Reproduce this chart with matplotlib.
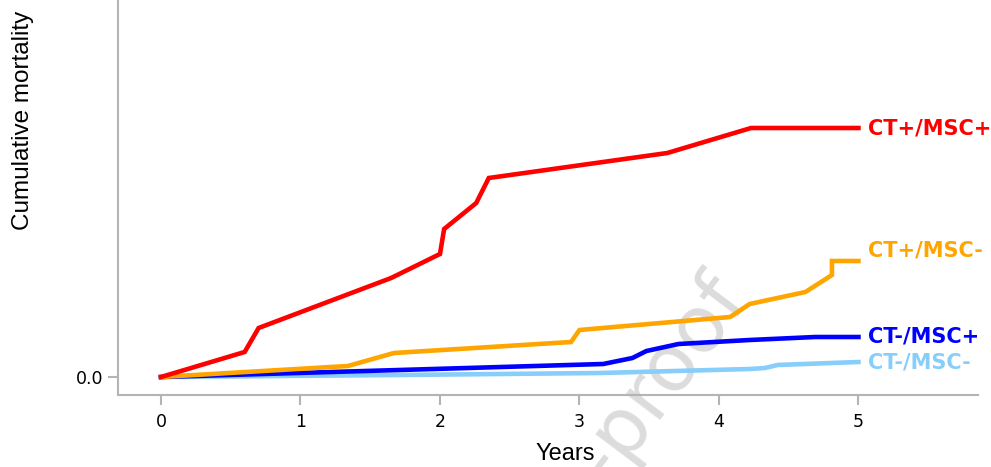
import matplotlib
matplotlib.use('agg')
import matplotlib.pyplot as plt

plt.rcParams["font.family"] = "DejaVu Sans"

# cumulative mortality curves, years since baseline
red_years = [0.0, 0.60, 0.70, 1.65, 2.00, 2.03, 2.26, 2.35, 3.63, 4.23, 5.0]
red_mort = [0.0, 0.025, 0.049, 0.099, 0.123, 0.148, 0.174, 0.199, 0.224, 0.249, 0.249]

orange_years = [0.0, 1.34, 1.67, 2.94, 3.00, 4.08, 4.22, 4.62, 4.81, 4.81, 5.0]
orange_mort = [0.0, 0.011, 0.024, 0.035, 0.047, 0.060, 0.073, 0.085, 0.102, 0.116, 0.116]

blue_years = [0.0, 3.17, 3.38, 3.48, 3.71, 4.22, 4.69, 5.0]
blue_mort = [0.0, 0.013, 0.019, 0.026, 0.033, 0.037, 0.040, 0.040]

light_years = [0.0, 1.71, 3.15, 4.22, 4.33, 4.42, 5.0]
light_mort = [0.0, 0.002, 0.004, 0.008, 0.009, 0.012, 0.015]

group_names = ['CT+/MSC+', 'CT+/MSC-', 'CT-/MSC+', 'CT-/MSC-']
group_colors = ['#ff0000', '#ffa500', '#0000ff', '#87cefa']
label_y = [0.249, 0.126, 0.040, 0.015]

x_ticks = [0, 1, 2, 3, 4, 5]

fig = plt.figure(figsize=(9.91, 4.67), dpi=100)
ax = fig.add_axes([118 / 991, 72 / 467, 860 / 991, 395 / 467])

curves = [
    (red_years, red_mort),
    (orange_years, orange_mort),
    (blue_years, blue_mort),
    (light_years, light_mort),
]
# draw the lightest curve first so the darker ones sit on top
for (xs, ys), color in reversed(list(zip(curves, group_colors))):
    ax.plot(xs, ys, color=color, lw=3.3, solid_joinstyle='miter', zorder=2)

for name, color, y in zip(group_names, group_colors, label_y):
    ax.text(5.07, y, name, color=color, fontsize=15, fontweight='bold',
            va='center', ha='left', clip_on=False)

ax.set_xlim(-0.308, 5.857)
ax.set_ylim(-0.018, 0.377)

spine_color = '#b4b4b4'
for side in ['top', 'right']:
    ax.spines[side].set_visible(False)
for side in ['left', 'bottom']:
    ax.spines[side].set_color(spine_color)
    ax.spines[side].set_linewidth(1.5)

ax.set_xticks(x_ticks)
ax.set_xticklabels([str(t) for t in x_ticks])
ax.set_yticks([0.0])
ax.set_yticklabels(['0.0'])
ax.tick_params(axis='both', colors=spine_color, length=7, width=1.5,
               labelcolor='black', labelsize=12.5, pad=6)
ax.tick_params(axis='y', pad=3.5)

ax.set_xlabel('Years', fontsize=17, family='Liberation Sans')
ax.xaxis.set_label_coords((565 - 118) / 860, (395 - 443) / 395)
ax.set_ylabel('Cumulative mortality', fontsize=17.5, family='Liberation Sans')
ax.yaxis.set_label_coords((34 - 118) / 860, (395 - 120) / 395)

# faint watermark running diagonally behind the curves
ax.text(0.741, 0.378, 'Journal Pre-proof', transform=fig.transFigure,
        fontsize=57, color='#dcdcdc', rotation=53, rotation_mode='anchor',
        ha='right', va='center', zorder=0.5, clip_on=False)

fig.savefig('out.png', dpi=100)
